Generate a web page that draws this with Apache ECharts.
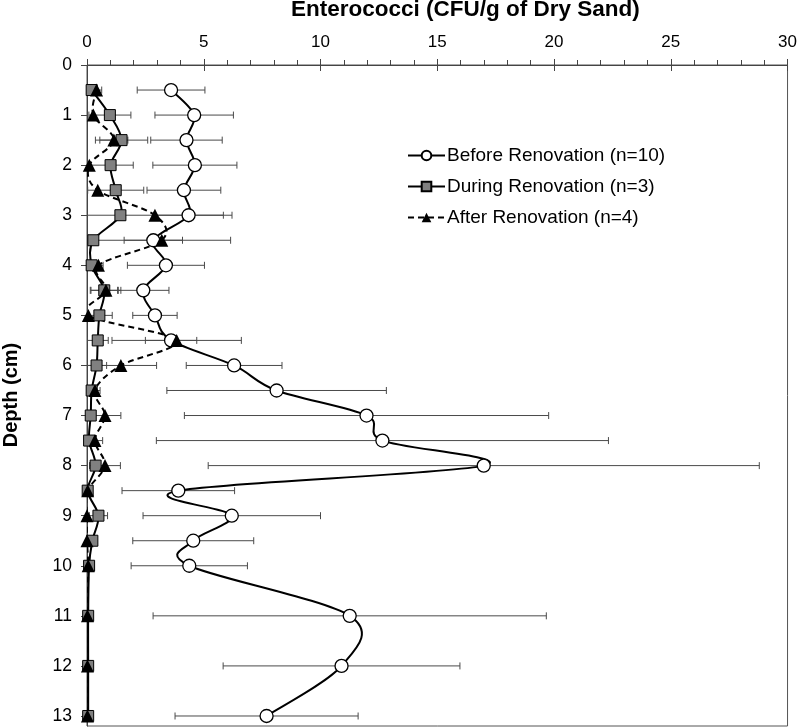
<!DOCTYPE html>
<html>
<head>
<meta charset="utf-8">
<script src="https://cdn.jsdelivr.net/npm/echarts@6/dist/echarts.min.js"></script>
<style>
html,body{margin:0;padding:0;background:#fff;}
#chart{width:800px;height:728px;}
</style>
</head>
<body>
<div id="chart"></div>
<script>
// Depth (cm)
const depths = [0.5, 1, 1.5, 2, 2.5, 3, 3.5, 4, 4.5, 5, 5.5, 6, 6.5, 7, 7.5, 8, 8.5, 9, 9.5, 10, 11, 12, 13];
// Before Renovation (n=10): mean and error (CFU/g)
const beforeMean = [3.6, 4.59, 4.26, 4.62, 4.15, 4.35, 2.84, 3.38, 2.41, 2.91, 3.6, 6.3, 8.12, 11.97, 12.65, 16.99, 3.91, 6.2, 4.55, 4.38, 11.25, 10.9, 7.69];
const beforeErr  = [1.45, 1.68, 1.53, 1.8, 1.58, 1.49, 1.25, 1.65, 1.1, 0.95, 1.1, 2.05, 4.7, 7.8, 9.68, 11.8, 2.41, 3.8, 2.59, 2.49, 8.42, 5.07, 3.92];
// During Renovation (n=3)
const duringMean = [0.2, 0.98, 1.48, 1.01, 1.23, 1.43, 0.27, 0.2, 0.74, 0.53, 0.46, 0.41, 0.2, 0.16, 0.09, 0.37, 0.03, 0.49, 0.23, 0.09, 0.05, 0.05, 0.05];
const duringErr  = [0, 0.9, 1.12, 0.97, 1.2, 0, 0, 0, 0.6, 0.55, 0.45, 0.43, 0, 0, 0, 0, 0, 0.39, 0, 0, 0, 0, 0];
// After Renovation (n=4)
const afterMean  = [0.41, 0.27, 1.15, 0.1, 0.46, 2.91, 3.2, 0.49, 0.81, 0.06, 3.84, 1.45, 0.34, 0.77, 0.34, 0.77, 0.03, 0.0, 0.0, 0.05, 0.02, 0.02, 0.02];
const afterErr   = [0.22, 0, 0.6, 0, 0, 3.3, 2.95, 0.2, 0.64, 0, 2.77, 1.53, 0.22, 0.68, 0.33, 0.66, 0, 0, 0, 0, 0, 0, 0];
const depthTicks = [0,1,2,3,4,5,6,7,8,9,10,11,12,13];

const names = ['Before Renovation (n=10)', 'During Renovation (n=3)', 'After Renovation (n=4)'];
const FONT = 'Liberation Sans, Arial, sans-serif';

function pts(mean) { return depths.map((d, i) => [mean[i], d]); }
function errData(mean, err) { return depths.map((d, i) => [mean[i], err[i], d]); }

function errRender(params, api) {
  const x = api.value(0), e = api.value(1), y = api.value(2);
  if (!e) return null;
  const lo = api.coord([x - e, y]);
  const hi = api.coord([x + e, y]);
  const h = 3.5;
  const st = { stroke: '#4a4a4a', lineWidth: 1 };
  return {
    type: 'group',
    children: [
      { type: 'line', shape: { x1: lo[0], y1: lo[1], x2: hi[0], y2: hi[1] }, style: st },
      { type: 'line', shape: { x1: lo[0], y1: lo[1] - h, x2: lo[0], y2: lo[1] + h }, style: st },
      { type: 'line', shape: { x1: hi[0], y1: hi[1] - h, x2: hi[0], y2: hi[1] + h }, style: st }
    ]
  };
}

function errSeries(mean, err) {
  return {
    type: 'custom', renderItem: errRender, data: errData(mean, err),
    encode: { x: 0, y: 2 }, clip: true, z: 1, silent: true
  };
}

// Smoothed (Catmull-Rom style) curve through the points, like a spreadsheet "smoothed line"
function curveSeries(mean, dash) {
  return {
    type: 'custom',
    data: pts(mean),
    encode: { x: 0, y: 1 },
    clip: true,
    z: 2,
    silent: true,
    renderItem: function (params, api) {
      if (params.dataIndex !== 0) return null;
      const P = depths.map((d, i) => api.coord([mean[i], d]));
      const n = P.length;
      let s = 'M' + P[0][0].toFixed(2) + ' ' + P[0][1].toFixed(2);
      for (let i = 0; i < n - 1; i++) {
        const p0 = P[i - 1] || P[i], p1 = P[i], p2 = P[i + 1], p3 = P[i + 2] || P[i + 1];
        const c1x = p1[0] + (p2[0] - p0[0]) / 6, c1y = p1[1] + (p2[1] - p0[1]) / 6;
        const c2x = p2[0] - (p3[0] - p1[0]) / 6, c2y = p2[1] - (p3[1] - p1[1]) / 6;
        s += ' C' + c1x.toFixed(2) + ' ' + c1y.toFixed(2) + ' ' + c2x.toFixed(2) + ' ' + c2y.toFixed(2) + ' ' + p2[0].toFixed(2) + ' ' + p2[1].toFixed(2);
      }
      return {
        type: 'path',
        shape: { pathData: s },
        style: { stroke: '#000', lineWidth: 2, fill: null, lineDash: dash || null }
      };
    }
  };
}

const chart = echarts.init(document.getElementById('chart'), null, { renderer: 'canvas' });
chart.setOption({
  animation: false,
  backgroundColor: '#fff',
  textStyle: { fontFamily: FONT },
  graphic: [
    { type: 'text', left: 291, top: -2, style: { text: 'Enterococci (CFU/g of Dry Sand)', font: 'bold 22.5px ' + FONT, fill: '#000' } },
    { type: 'text', x: 11, y: 395, rotation: Math.PI / 2, style: { text: 'Depth (cm)', font: 'bold 20px ' + FONT, fill: '#000', align: 'center', verticalAlign: 'middle' } }
  ],
  grid: { left: 87, right: 12, top: 65, bottom: 2, show: true, borderColor: '#555', borderWidth: 1, backgroundColor: 'transparent' },
  legend: {
    orient: 'vertical',
    left: 402,
    top: 141,
    itemWidth: 37,
    itemHeight: 12,
    itemGap: 12,
    lineStyle: { opacity: 1, width: 2, color: '#000' },
    textStyle: { fontSize: 19, color: '#000', fontFamily: FONT, padding: [0, 0, 0, -3] },
    data: names
  },
  xAxis: [
    {
      type: 'value', position: 'top', min: 0, max: 30, interval: 5,
      axisLine: { show: true, lineStyle: { color: '#444', width: 1 } },
      axisTick: { show: true, length: 6, lineStyle: { color: '#444' } },
      minorTick: { show: true, splitNumber: 5, length: 5, lineStyle: { color: '#444' } },
      axisLabel: { fontSize: 17, color: '#000', margin: 14, fontFamily: FONT },
      splitLine: { show: false }
    },
    {
      type: 'value', position: 'top', min: 0, max: 30, interval: 5,
      axisLine: { show: false },
      axisTick: { show: true, inside: true, length: 6, lineStyle: { color: '#444' } },
      axisLabel: { show: false },
      splitLine: { show: false }
    }
  ],
  yAxis: {
    type: 'value', inverse: true, min: 0, max: 13.2,
    axisLine: { show: true, lineStyle: { color: '#444', width: 1 } },
    axisTick: { show: true, length: 6, customValues: depthTicks, lineStyle: { color: '#444' } },
    axisLabel: { fontSize: 17.5, color: '#000', margin: 15, customValues: depthTicks, fontFamily: FONT },
    splitLine: { show: false }
  },
  series: [
    errSeries(beforeMean, beforeErr),
    errSeries(duringMean, duringErr),
    errSeries(afterMean, afterErr),
    curveSeries(beforeMean, null),
    curveSeries(duringMean, null),
    curveSeries(afterMean, [6, 4]),
    {
      name: names[0], type: 'line', data: pts(beforeMean),
      symbol: 'circle', symbolSize: 13,
      lineStyle: { color: '#000', width: 2, opacity: 0 },
      itemStyle: { color: '#fff', borderColor: '#000', borderWidth: 1.3 },
      z: 3
    },
    {
      name: names[1], type: 'line', data: pts(duringMean),
      symbol: 'rect', symbolSize: 11,
      lineStyle: { color: '#000', width: 2, opacity: 0 },
      itemStyle: { color: '#808080', borderColor: '#000', borderWidth: 1 },
      z: 4
    },
    {
      name: names[2], type: 'line', data: pts(afterMean),
      symbol: 'triangle', symbolSize: 13,
      lineStyle: { color: '#000', width: 2, type: [6, 4], opacity: 0 },
      itemStyle: { color: '#000', borderColor: '#000', borderWidth: 0 },
      z: 5
    }
  ]
});
</script>
</body>
</html>
